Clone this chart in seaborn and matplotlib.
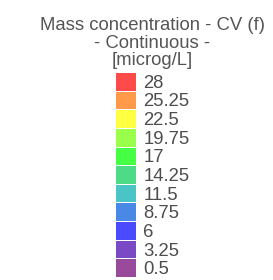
import numpy as np
import pandas as pd
import matplotlib
matplotlib.use('Agg')
import matplotlib.pyplot as plt
from matplotlib.colors import ListedColormap
import seaborn as sns

# legend classes (top to bottom)
values = [28, 25.25, 22.5, 19.75, 17, 14.25, 11.5, 8.75, 6, 3.25, 0.5]
colors = ['#ff4a4a', '#ff9a4a', '#ffff44', '#99ff4a', '#44ff44', '#4ddb88',
          '#4ac4c4', '#4a88e6', '#4a4aff', '#7a4ac4', '#9a4a9a']
title_lines = ['Mass concentration - CV (f)', '- Continuous -', '[microg/L]']

sns.set_theme(style='white')
plt.rcParams['font.family'] = ['Liberation Sans', 'DejaVu Sans']

W, H = 273, 280
fig = plt.figure(figsize=(W / 100, H / 100), dpi=100)
ax = fig.add_axes([114.5 / W, 1 - 277 / H, 21 / W, 205 / H])

df = pd.DataFrame({'v': values}, index=[f'{v:g}' for v in values])
step = values[0] - values[1]
cmap = ListedColormap(colors[::-1])
sns.heatmap(df, ax=ax, cmap=cmap, vmin=min(values) - step / 2, vmax=max(values) + step / 2,
            cbar=False, linewidths=0.7, linecolor='white', xticklabels=False)

ax.yaxis.tick_right()
ax.set_ylabel('')
ax.tick_params(axis='y', length=0, pad=5.5, labelsize=13.3, labelcolor='#4d4d4d', labelrotation=0)

fig.text(152 / W, 1 - 17 / H, '\n'.join(title_lines), ha='center', va='top',
         fontsize=13.3, color='#555555', linespacing=1.05, multialignment='center')

fig.savefig('out.png', dpi=100)
